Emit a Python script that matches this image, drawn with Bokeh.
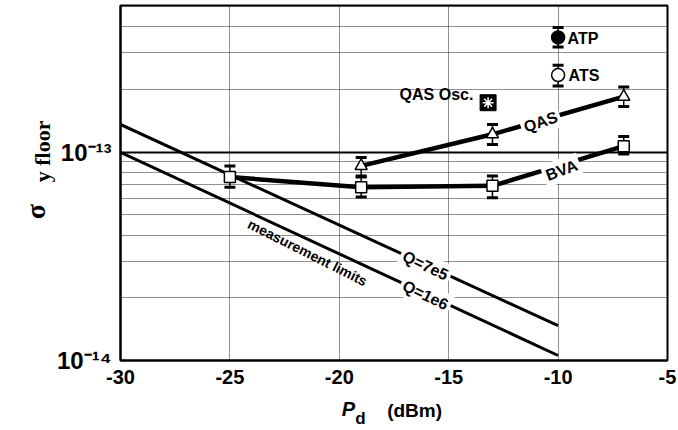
import math
from bokeh.plotting import figure
from bokeh.models import (FixedTicker, CustomJSTickFormatter, Label, Range1d,
                          LinearAxis, LogAxis)
from bokeh.embed import file_html
from bokeh.resources import INLINE

# ---- data ----
bva_x = [-25, -19, -13, -7]
bva_y = [7.6e-14, 6.8e-14, 6.9e-14, 1.07e-13]
bva_lo = [6.8e-14, 6.1e-14, 6.05e-14, 9.8e-14]
bva_hi = [8.6e-14, 7.6e-14, 7.7e-14, 1.19e-13]

qas_x = [-19, -13, -7]
qas_y = [8.6e-14, 1.22e-13, 1.85e-13]
qas_lo = [7.7e-14, 1.09e-13, 1.66e-13]
qas_hi = [9.45e-14, 1.36e-13, 2.06e-13]

atp_x = [-10]
atp_y = [3.56e-13]
atp_lo = [3.2e-13]
atp_hi = [3.98e-13]

ats_x = [-10]
ats_y = [2.35e-13]
ats_lo = [2.08e-13]
ats_hi = [2.62e-13]

osc_x = [-13.2]
osc_y = [1.73e-13]

lim_x = [-30, -10]
lim_q7e5 = [1.36e-13, 1.47e-14]
lim_q1e6 = [1.0e-13, 1.057e-14]

x_ticks = [-30, -25, -20, -15, -10, -5]
x_tick_labels = ["-30", "-25", "-20", "-15", "-10", "-5"]
y_ticks = [1e-14, 1e-13]
y_tick_labels = ["10⁻¹⁴", "10⁻¹³"]
y_minor = [2e-14, 3e-14, 4e-14, 5e-14, 6e-14, 7e-14, 8e-14, 9e-14,
           2e-13, 3e-13, 4e-13, 5e-13]

SANS = "Liberation Sans"
SERIF = "Liberation Serif"

p = figure(width=678, height=430, x_range=Range1d(-30, -5),
           y_range=Range1d(1e-14, 5.07e-13), y_axis_type="log",
           output_backend="svg", toolbar_location=None, title=None,
           min_border_left=120, min_border_right=11, min_border_top=5,
           min_border_bottom=67)
p.background_fill_color = "white"
p.border_fill_color = "white"
p.outline_line_color = "black"
p.outline_line_width = 2

LOOKUP = """
for (let i = 0; i < t.length; i++) {
  const a = t[i], b = tick;
  if (Math.abs(a - b) <= 1e-9 * Math.max(Math.abs(a), Math.abs(b), 1e-300)) return l[i];
}
return "";
"""

def lookup_formatter(ticks, labels):
    return CustomJSTickFormatter(args=dict(t=ticks, l=labels), code=LOOKUP)

# main axes
p.xaxis.ticker = FixedTicker(ticks=x_ticks)
p.xaxis.formatter = lookup_formatter(x_ticks, x_tick_labels)
p.yaxis.ticker = FixedTicker(ticks=y_ticks, minor_ticks=y_minor)
p.yaxis.formatter = lookup_formatter(y_ticks, y_tick_labels)
for ax in (p.xaxis, p.yaxis):
    ax.axis_line_color = "black"
    ax.axis_line_width = 2
    ax.major_tick_in = 0
    ax.major_tick_out = 0
    ax.minor_tick_in = 0
    ax.minor_tick_out = 0
    ax.major_label_text_font = SANS
    ax.major_label_text_font_style = "bold"
    ax.major_label_text_color = "black"
p.xaxis.major_label_text_font_size = "20px"
p.yaxis.major_label_text_font_size = "24px"
p.xaxis.major_label_standoff = 9
p.yaxis.major_label_standoff = 9

# axis titles, built as tick-label-only axes so that they sit in the margins
def text_axis(side, pos, labels, font, style, size, standoff, orientation="horizontal"):
    cls = LinearAxis if side == "below" else LogAxis
    ax = cls(ticker=FixedTicker(ticks=pos, minor_ticks=[]),
             formatter=lookup_formatter(pos, labels))
    ax.axis_line_color = None
    ax.major_tick_line_color = None
    ax.minor_tick_line_color = None
    ax.major_tick_in = 0
    ax.major_tick_out = 0
    ax.minor_tick_in = 0
    ax.minor_tick_out = 0
    ax.major_label_text_font = font
    ax.major_label_text_font_style = style
    ax.major_label_text_font_size = size
    ax.major_label_text_color = "black"
    ax.major_label_text_line_height = 1.0
    ax.major_label_standoff = standoff
    ax.major_label_orientation = orientation
    p.add_layout(ax, side)

xtitle_p_pos = [-19.58]
xtitle_p = ["P"]
xtitle_unit_pos = [-16.56]
xtitle_unit = ["(dBm)"]
xtitle_sub_pos = [-19.03]
xtitle_sub = ["d"]
text_axis("below", xtitle_p_pos, xtitle_p, SANS, "bold italic", "20px", 11)
text_axis("below", xtitle_unit_pos, xtitle_unit, SANS, "bold", "19px", -23)
text_axis("below", xtitle_sub_pos, xtitle_sub, SANS, "bold", "17px", -15)

ytitle_floor_pos = [1.42e-13]
ytitle_floor = ["y floor"]
ytitle_sigma_pos = [5.65e-14]
ytitle_sigma = ["σ"]
text_axis("left", ytitle_floor_pos, ytitle_floor, SERIF, "bold", "22px", 11, math.pi / 2)
text_axis("left", ytitle_sigma_pos, ytitle_sigma, SERIF, "bold", "28px", -21, math.pi / 2)

# grids
p.xgrid.grid_line_color = "#222222"
p.xgrid.grid_line_dash = "1 1"
p.xgrid.grid_line_width = 1
p.ygrid.grid_line_color = "black"
p.ygrid.grid_line_width = 2
p.ygrid.minor_grid_line_color = "#222222"
p.ygrid.minor_grid_line_dash = "1 1"
p.ygrid.minor_grid_line_width = 1

# measurement limit lines
p.line(lim_x, lim_q7e5, line_color="black", line_width=3)
p.line(lim_x, lim_q1e6, line_color="black", line_width=3)

# series lines
p.line(bva_x, bva_y, line_color="black", line_width=4.5)
p.line(qas_x, qas_y, line_color="black", line_width=4.5)

# error bars
def errbars(xs, lo, hi):
    p.segment(x0=xs, y0=lo, x1=xs, y1=hi, line_color="black", line_width=1.5)
    p.scatter(xs, hi, marker="dash", size=11, line_color="black", line_width=3)
    p.scatter(xs, lo, marker="dash", size=11, line_color="black", line_width=3)

errbars(bva_x, bva_lo, bva_hi)
errbars(qas_x, qas_lo, qas_hi)
errbars(atp_x, atp_lo, atp_hi)
errbars(ats_x, ats_lo, ats_hi)

# markers
p.scatter(bva_x, bva_y, marker="square", size=11, fill_color="white",
          line_color="black", line_width=1.5)
p.scatter(qas_x, qas_y, marker="triangle", size=12, fill_color="white",
          line_color="black", line_width=1.5)
p.scatter(atp_x, atp_y, marker="circle", size=13, fill_color="black",
          line_color="black", line_width=1.5)
p.scatter(ats_x, ats_y, marker="circle", size=13, fill_color="white",
          line_color="black", line_width=1.5)
p.scatter(osc_x, osc_y, marker="square", size=16, fill_color="black",
          line_color="black", line_width=1)
p.scatter(osc_x, osc_y, marker="asterisk", size=11, line_color="white",
          line_width=1.5)

def lab(text, x, y, size, align="center", angle=0.0, bg=False,
        font=SANS, style="bold", baseline="middle"):
    kw = dict(x=x, y=y, text=text, text_font=font, text_font_style=style,
              text_font_size=size, text_color="black", text_align=align,
              text_baseline=baseline, angle=angle)
    if bg:
        kw.update(background_fill_color="white", padding=3)
    p.add_layout(Label(**kw))

# in-plot labels
lab("ATP", -9.57, 3.53e-13, "16px", align="left")
lab("ATS", -9.52, 2.33e-13, "16px", align="left")
lab("QAS Osc.", -13.87, 1.89e-13, "16px", align="right")
lab("QAS", -10.8, 1.40e-13, "16px", angle=0.33, bg=True)
lab("BVA", -9.84, 8.2e-14, "16px", angle=0.36, bg=True)
lab("Q=7e5", -16.06, 2.86e-14, "16px", angle=-0.44, bg=True)
lab("Q=1e6", -16.06, 2.06e-14, "16px", angle=-0.44, bg=True)
lab("measurement limits", -21.45, 3.3e-14, "14px", angle=-0.466)

open("out.html", "w").write(file_html(p, INLINE))
